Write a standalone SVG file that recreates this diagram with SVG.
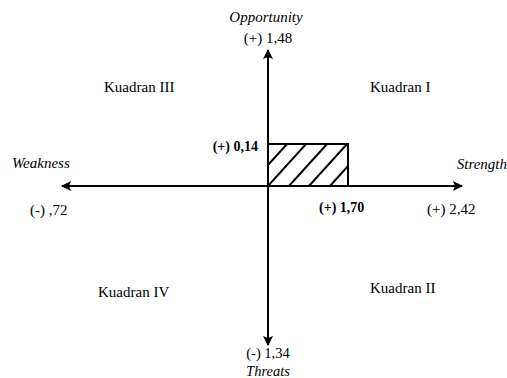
<svg xmlns="http://www.w3.org/2000/svg" width="507" height="378" viewBox="0 0 507 378">
<style>
text{font-family:"Liberation Serif","Times New Roman",serif;font-size:15px;fill:#000}
.i{font-style:italic}
.b{font-weight:bold;font-size:14px}
.ax{stroke:#000;stroke-width:2;fill:none}
.h{stroke:#000;stroke-width:2}
</style>
<defs>
<marker id="ah" viewBox="0 0 10 10" refX="9" refY="5" markerWidth="5" markerHeight="5" orient="auto" markerUnits="strokeWidth">
<path d="M0,0 L10,5 L0,10 L2,5 Z" fill="#000"/>
</marker>
<clipPath id="rc"><rect x="268" y="144" width="80" height="42"/></clipPath>
</defs>
<rect width="507" height="378" fill="#fff"/>
<g id="connectors">
<line class="ax" x1="268" y1="186" x2="268" y2="50" marker-end="url(#ah)"/>
<line class="ax" x1="268" y1="186" x2="268" y2="345" marker-end="url(#ah)"/>
<line class="ax" x1="268" y1="186" x2="462" y2="186" marker-end="url(#ah)"/>
<line class="ax" x1="268" y1="186" x2="62" y2="186" marker-end="url(#ah)"/>
</g>
<g id="box">
<g clip-path="url(#rc)">
<line class="h" x1="249" y1="186" x2="287" y2="144"/>
<line class="h" x1="268" y1="186" x2="306" y2="144"/>
<line class="h" x1="289" y1="186" x2="327" y2="144"/>
<line class="h" x1="309" y1="186" x2="347" y2="144"/>
<line class="h" x1="330" y1="186" x2="368" y2="144"/>
</g>
<rect x="268" y="144" width="80" height="42" fill="none" stroke="#000" stroke-width="2"/>
</g>
<g id="labels">
<text class="i" x="266" y="22" text-anchor="middle">Opportunity</text>
<text x="268" y="43" text-anchor="middle">(+) 1,48</text>
<text x="104" y="92">Kuadran III</text>
<text x="370" y="92">Kuadran I</text>
<text class="b" x="258" y="151" text-anchor="end">(+) 0,14</text>
<text class="i" x="12" y="168">Weakness</text>
<text class="i" x="507" y="169" text-anchor="end">Strength</text>
<text x="30" y="215">(-) ,72</text>
<text class="b" x="319" y="212">(+) 1,70</text>
<text x="427" y="214">(+) 2,42</text>
<text x="98" y="297">Kuadran IV</text>
<text x="370" y="293">Kuadran II</text>
<text x="268" y="358" text-anchor="middle" style="font-size:14.5px">(-) 1,34</text>
<text class="i" x="268" y="376" text-anchor="middle" style="font-size:14.5px">Threats</text>
</g>
</svg>
